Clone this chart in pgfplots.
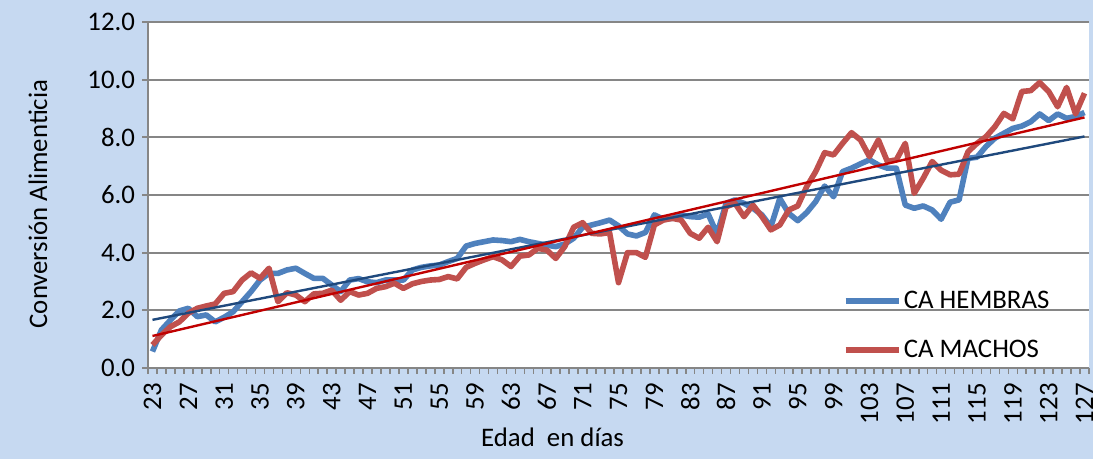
\documentclass[border=0pt]{standalone}
\usepackage{fontspec}
\setmainfont{Carlito}
\usepackage{pgfplots}
\pgfplotsset{compat=1.18}
\definecolor{bgblue}{HTML}{C6D9F1}
\definecolor{serH}{HTML}{4F81BD}
\definecolor{serM}{HTML}{C0504D}
\definecolor{trH}{HTML}{1F497D}
\definecolor{trM}{HTML}{C00000}
\definecolor{gridg}{HTML}{868686}
\newcommand{\cfont}{\fontsize{13.4}{15}\selectfont}
\begin{document}
\begin{tikzpicture}[x=1pt,y=1pt]
\fill[bgblue] (0,0) rectangle (546.5,229.5);
\begin{axis}[
  at={(74pt,45.5pt)}, anchor=south west,
  scale only axis, width=470.5pt, height=173pt,
  xmin=22.5, xmax=127.5, ymin=0, ymax=12,
  axis background/.style={fill=white},
  axis lines=left,
  axis line style={-, draw=gridg, line width=1pt},
  ymajorgrids, major grid style={draw=gridg, line width=0.9pt},
  xtick={23,27,...,127},
  minor xtick={22.5,23.5,...,127.5},
  ytick={0,2,...,12},
  tick align=outside,
  major tick length=3pt, minor tick length=3pt,
  major x tick style={draw=none},
  minor x tick style={draw=gridg, line width=0.8pt},
  major y tick style={draw=gridg, line width=0.9pt},
  /pgf/number format/assume math mode=true,
  yticklabel style={font=\cfont, /pgf/number format/.cd, fixed, fixed zerofill, precision=1},
  xticklabel style={font=\cfont, rotate=90, anchor=east, inner sep=4.5pt},
  xlabel={Edad\ \ en días},
  ylabel={Conversión Alimenticia},
  label style={font=\cfont},
  xlabel style={at={(axis description cs:0.430,0)}, anchor=center, yshift=-34.5pt},
  ylabel style={at={(axis description cs:-0.117,0.474)}, anchor=center},
  legend style={at={(axis description cs:0.738,0.1228)}, anchor=west, draw=none, fill=none,
    font=\cfont, inner sep=0pt, row sep=12pt, nodes={inner sep=1.2pt}},
  legend cell align=left,
  legend image code/.code={\draw[#1] (0pt,0pt) -- (26.5pt,0pt);},
]
\addplot[serH, line width=2.8pt, line join=round] coordinates {
(23,0.57)(24,1.32)(25,1.66)(26,1.98)(27,2.07)(28,1.78)(29,1.84)(30,1.60)(31,1.76)(32,1.95)
(33,2.30)(34,2.65)(35,3.05)(36,3.28)(37,3.28)(38,3.40)(39,3.46)(40,3.28)(41,3.11)(42,3.11)
(43,2.88)(44,2.65)(45,3.05)(46,3.10)(47,2.99)(48,2.96)(49,3.05)(50,3.05)(51,3.05)(52,3.40)
(53,3.49)(54,3.54)(55,3.57)(56,3.69)(57,3.80)(58,4.23)(59,4.32)(60,4.38)(61,4.44)(62,4.42)
(63,4.38)(64,4.46)(65,4.38)(66,4.32)(67,4.26)(68,4.21)(69,4.30)(70,4.50)(71,4.88)(72,4.96)
(73,5.04)(74,5.13)(75,4.93)(76,4.65)(77,4.58)(78,4.70)(79,5.31)(80,5.16)(81,5.19)(82,5.31)
(83,5.25)(84,5.23)(85,5.34)(86,4.65)(87,5.71)(88,5.83)(89,5.71)(90,5.54)(91,5.31)(92,4.90)
(93,5.88)(94,5.36)(95,5.11)(96,5.39)(97,5.77)(98,6.31)(99,5.94)(100,6.81)(101,6.93)(102,7.08)
(103,7.22)(104,7.04)(105,6.93)(106,6.93)(107,5.65)(108,5.54)(109,5.62)(110,5.48)(111,5.16)(112,5.75)
(113,5.83)(114,7.27)(115,7.31)(116,7.68)(117,7.97)(118,8.14)(119,8.31)(120,8.39)(121,8.54)(122,8.81)
(123,8.58)(124,8.81)(125,8.66)(126,8.72)(127,8.86)
};
\addlegendentry{CA HEMBRAS}
\addplot[serM, line width=2.8pt, line join=round] coordinates {
(23,0.80)(24,1.14)(25,1.43)(26,1.60)(27,1.90)(28,2.07)(29,2.15)(30,2.22)(31,2.59)(32,2.65)
(33,3.05)(34,3.30)(35,3.11)(36,3.46)(37,2.30)(38,2.61)(39,2.53)(40,2.30)(41,2.57)(42,2.59)
(43,2.70)(44,2.35)(45,2.65)(46,2.53)(47,2.59)(48,2.76)(49,2.82)(50,2.94)(51,2.76)(52,2.92)
(53,3.00)(54,3.05)(55,3.07)(56,3.17)(57,3.09)(58,3.49)(59,3.63)(60,3.75)(61,3.86)(62,3.75)
(63,3.52)(64,3.88)(65,3.92)(66,4.15)(67,4.09)(68,3.80)(69,4.21)(70,4.88)(71,5.04)(72,4.67)
(73,4.65)(74,4.70)(75,2.96)(76,4.00)(77,4.00)(78,3.84)(79,4.96)(80,5.13)(81,5.19)(82,5.13)
(83,4.67)(84,4.50)(85,4.88)(86,4.38)(87,5.59)(88,5.71)(89,5.25)(90,5.65)(91,5.25)(92,4.79)
(93,4.96)(94,5.48)(95,5.62)(96,6.29)(97,6.81)(98,7.47)(99,7.39)(100,7.79)(101,8.16)(102,7.91)
(103,7.33)(104,7.91)(105,7.16)(106,7.22)(107,7.79)(108,6.06)(109,6.58)(110,7.16)(111,6.86)(112,6.70)
(113,6.72)(114,7.50)(115,7.79)(116,8.02)(117,8.37)(118,8.83)(119,8.64)(120,9.59)(121,9.62)(122,9.90)
(123,9.59)(124,9.06)(125,9.73)(126,8.81)(127,9.53)
};
\addlegendentry{CA MACHOS}
\addplot[trH, line width=1.2pt, forget plot] coordinates {(23,1.67)(127,8.03)};
\addplot[trM, line width=1.2pt, forget plot] coordinates {(23,1.11)(127,8.69)};
\end{axis}
\pgfresetboundingbox
\path[use as bounding box] (0,0) rectangle (546.5,229.5);
\end{tikzpicture}
\end{document}
